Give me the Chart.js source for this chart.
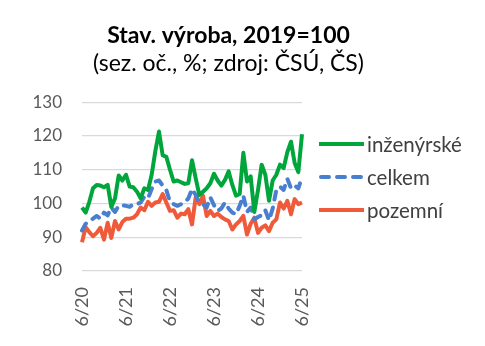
<!DOCTYPE html>
<html>
<head>
<meta charset="utf-8">
<script src="https://cdn.jsdelivr.net/npm/chart.js@4"></script>
<style>
  html, body { margin: 0; padding: 0; background: #fff; }
  #wrap { width: 485px; height: 346px; }
</style>
</head>
<body>
<div id="wrap"><canvas id="chart" width="485" height="346"></canvas></div>
<script>
// monthly index, 6/2020 .. 6/2025 (2019 = 100)
const months = [];
for (let y = 20; y <= 25; y++) {
  for (let m = 1; m <= 12; m++) {
    if ((y === 20 && m < 6) || (y === 25 && m > 6)) continue;
    months.push(m + '/' + y);
  }
}

const inzenyrske = [
  98.8, 97.3, 100.5, 104.5, 105.5, 105.3, 104.8, 105.5, 99.0, 101.5,
  108.3, 106.8, 108.5, 105.0, 104.8, 103.5, 101.5, 104.5, 104.0, 108.5,
  115.5, 121.3, 114.3, 113.8, 110.0, 106.5, 106.8, 106.3, 105.8, 106.0,
  112.8, 107.5, 102.5, 103.5, 104.5, 106.0, 108.8, 106.8, 105.3, 107.0,
  109.5, 105.5, 102.3, 102.8, 115.0, 106.5, 108.0, 97.5, 104.0, 111.5,
  108.5, 100.8, 106.8, 108.5, 111.5, 110.5, 115.2, 118.3, 112.0, 109.3,
  120.5
];

const celkem = [
  92.0, 94.0, 94.8, 95.5, 96.3, 95.5, 97.3, 96.5, 98.8, 97.5,
  99.3, 99.5, 99.3, 99.0, 99.8, 99.8, 100.3, 102.0, 101.5, 104.3,
  106.5, 106.8, 105.3, 104.0, 100.5, 99.8, 99.3, 99.8, 100.3, 101.5,
  104.3, 102.5, 100.3, 99.8, 98.8, 101.8, 99.5, 97.8, 98.5, 100.3,
  98.5, 97.3, 96.8, 99.3, 102.3, 97.5, 98.8, 95.3, 96.0, 96.5,
  98.0, 95.0, 98.5, 104.0, 105.0, 104.0, 107.3, 104.5, 105.3, 104.5,
  107.8
];

const pozemni = [
  88.5, 93.0, 91.5, 90.3, 91.3, 92.8, 89.3, 94.3, 89.8, 94.8,
  92.3, 94.5, 95.5, 95.5, 95.8, 96.8, 98.8, 98.0, 100.5, 99.3,
  100.3, 100.5, 102.8, 100.3, 97.8, 98.0, 95.8, 97.0, 96.8, 98.3,
  93.8, 101.8, 99.8, 102.3, 96.3, 97.8, 96.3, 97.0, 96.0, 95.3,
  94.8, 92.3, 93.8, 94.8, 96.3, 90.8, 94.0, 95.8, 91.3, 92.8,
  93.5, 91.8, 94.3, 95.3, 100.3, 98.5, 100.8, 96.8, 101.3, 99.8,
  100.3
];

const yTicks = [80, 90, 100, 110, 120, 130];

const FONT = 'Lato, "Open Sans", sans-serif';

// legend drawn to the right of the plot, one row per series
const sideLegend = {
  id: 'sideLegend',
  afterDraw(chart) {
    const ctx = chart.ctx;
    ctx.save();
    chart.data.datasets.forEach((ds, i) => {
      const y = 144 + i * 33;
      ctx.strokeStyle = ds.borderColor;
      ctx.lineWidth = 4;
      ctx.lineCap = ds.borderDash ? 'round' : 'butt';
      ctx.setLineDash(ds.borderDash || []);
      ctx.beginPath();
      ctx.moveTo(ds.borderDash ? 321 : 319, y);
      ctx.lineTo(364, y);
      ctx.stroke();
      ctx.setLineDash([]);
      ctx.fillStyle = '#404040';
      ctx.font = '20.5px ' + FONT;
      ctx.textBaseline = 'middle';
      ctx.textAlign = 'left';
      ctx.fillText(ds.label, 367, y + 1);
    });
    ctx.restore();
  }
};

new Chart(document.getElementById('chart'), {
  type: 'line',
  data: {
    labels: months,
    datasets: [{
      label: 'inženýrské',
      data: inzenyrske,
      borderColor: '#00a63c',
      borderWidth: 4
    }, {
      label: 'celkem',
      data: celkem,
      borderColor: '#4a7fd0',
      borderWidth: 4,
      borderDash: [8, 8],
      borderCapStyle: 'round'
    }, {
      label: 'pozemní',
      data: pozemni,
      borderColor: '#ee5a3a',
      borderWidth: 4
    }]
  },
  options: {
    responsive: false,
    animation: false,
    layout: { padding: { left: 0, right: 28, top: 0, bottom: 0 } },
    elements: {
      point: { radius: 0 },
      line: { tension: 0, borderJoinStyle: 'round' }
    },
    plugins: {
      legend: { display: false },
      tooltip: { enabled: false },
      title: {
        display: true,
        text: 'Stav. výroba, 2019=100',
        color: '#000',
        font: { family: FONT, size: 23, weight: 'bold' },
        padding: { top: 22, bottom: 0 }
      },
      subtitle: {
        display: true,
        text: '(sez. oč., %; zdroj: ČSÚ, ČS)',
        color: '#000',
        font: { family: FONT, size: 23 },
        padding: { top: 0, bottom: 25 }
      }
    },
    scales: {
      x: {
        offset: false,
        grid: { display: false, drawTicks: false },
        border: { display: false },
        afterFit(scale) { scale.height = 75; },
        ticks: {
          autoSkip: false,
          maxRotation: 90,
          minRotation: 90,
          padding: 16,
          color: '#595959',
          font: { family: FONT, size: 18 },
          callback: (v, i) => (i % 12 === 0 ? months[i] : '')
        }
      },
      y: {
        min: 80,
        max: 130,
        afterBuildTicks(scale) { scale.ticks = yTicks.map(v => ({ value: v })); },
        afterFit(scale) { scale.width = 82; },
        grid: { color: '#d9d9d9', lineWidth: 1.3, drawTicks: false },
        border: { display: false },
        ticks: {
          padding: 20,
          color: '#595959',
          font: { family: FONT, size: 17 }
        }
      },
      // empty right axis that reserves room for the legend
      side: {
        type: 'linear',
        position: 'right',
        afterFit(scale) { scale.width = 155; },
        grid: { display: false, drawTicks: false },
        border: { display: false },
        ticks: { display: false }
      }
    }
  },
  plugins: [sideLegend]
});
</script>
</body>
</html>
